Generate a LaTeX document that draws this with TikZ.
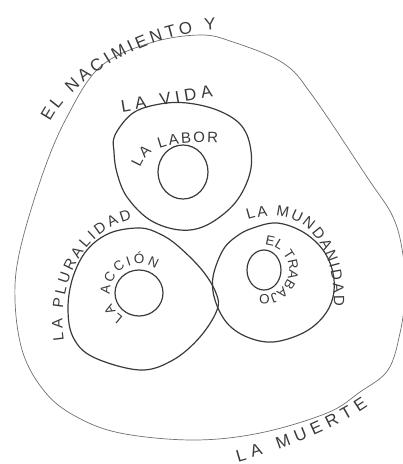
\documentclass[tikz,border=0pt]{standalone}
\usepackage{fontspec}
\setmainfont{Liberation Sans}
\usetikzlibrary{decorations.text}
\definecolor{ink}{HTML}{3A3A3A}
\definecolor{pencil}{HTML}{707070}
\newcommand\lblA{\fontsize{17}{17}\selectfont\color{ink}}
\newcommand\lblB{\fontsize{15}{15}\selectfont\color{ink}}
\newcommand\lblC{\fontsize{13.5}{13.5}\selectfont\color{ink}}
\begin{document}
\begin{tikzpicture}[x=1pt,y=-1pt,
  ring/.style={draw=ink, line width=1.2pt, line join=round},
  outerline/.style={draw=pencil, line width=0.7pt},
  lbl/.style={decorate, decoration={text along path, text align={fit to path}, #1}}]
\useasboundingbox (0,0) rectangle (403,464);

% outer rounded triangle
\draw[outerline] plot[smooth cycle, tension=0.6] coordinates {
 (200,35) (233,42) (283,63) (312,95) (367,177) (393,217) (403,255) (405,295)
 (400,333) (388,370) (360,392) (327,413) (260,433) (193,440) (120,433)
 (75,416) (45,392) (23,353) (15,300) (20,250) (43,173) (67,117) (100,67) (150,43)};

% top ring: la vida / la labor
\draw[ring] plot[smooth cycle, tension=0.6] coordinates {
 (115,135) (133,113) (160,104) (187,103) (217,110) (240,124) (250,145)
 (250,173) (235,203) (207,225) (180,230) (150,220) (127,197) (117,173) (114,152)};
\draw[ring] (183,172) ellipse [x radius=25, y radius=27];

% left ring: la pluralidad / la accion
\draw[ring] plot[smooth cycle, tension=0.6] coordinates {
 (140,228) (110,233) (87,250) (73,277) (68,308) (73,337) (93,357) (140,370)
 (173,360) (200,337) (217,310) (216,293) (202,270) (178,246) (160,234)};
\draw[ring] (139,293) ellipse [x radius=24, y radius=23];

% right ring: la mundanidad / el trabajo
\draw[ring] plot[smooth cycle, tension=0.6] coordinates {
 (253,228) (277,223) (303,232) (323,250) (333,273) (333,297) (323,317)
 (303,333) (273,342) (247,337) (227,323) (215,300) (213,277) (223,250) (237,236)};
\draw[ring] (264,270) ellipse [x radius=17, y radius=20];

% labels
\path[lbl={text={|\lblA|EL NACIMIENTO Y}}]
  (50,122) .. controls (72,80) and (140,35) .. (216,30);
\path[lbl={text={|\lblA|LA VIDA}}]
  (122,112) -- (213,97);
\path[lbl={text={|\lblB|LA LABOR}}]
  (140,168) .. controls (148,148) and (165,141) .. (218,143);
\path[lbl={text={|\lblB|LA PLURALIDAD}}]
  (64,340) .. controls (56,285) and (82,232) .. (132,219);
\path[lbl={text={|\lblC|LA ACCIÓN}}]
  (139,293) ++(122:29) arc[start angle=122, end angle=305, radius=29];
\path[lbl={text={|\lblB|LA MUNDANIDAD}}]
  (248,220) .. controls (300,203) and (335,240) .. (334,306);
\path[lbl={text={|\lblC|EL TRABAJO}}]
  (264,270) ++(-88:25) arc[start angle=-88, end angle=100, radius=25];
\path[lbl={text={|\lblA|LA MUERTE}}]
  (238,462) .. controls (280,450) and (330,432) .. (368,406);
\end{tikzpicture}
\end{document}
